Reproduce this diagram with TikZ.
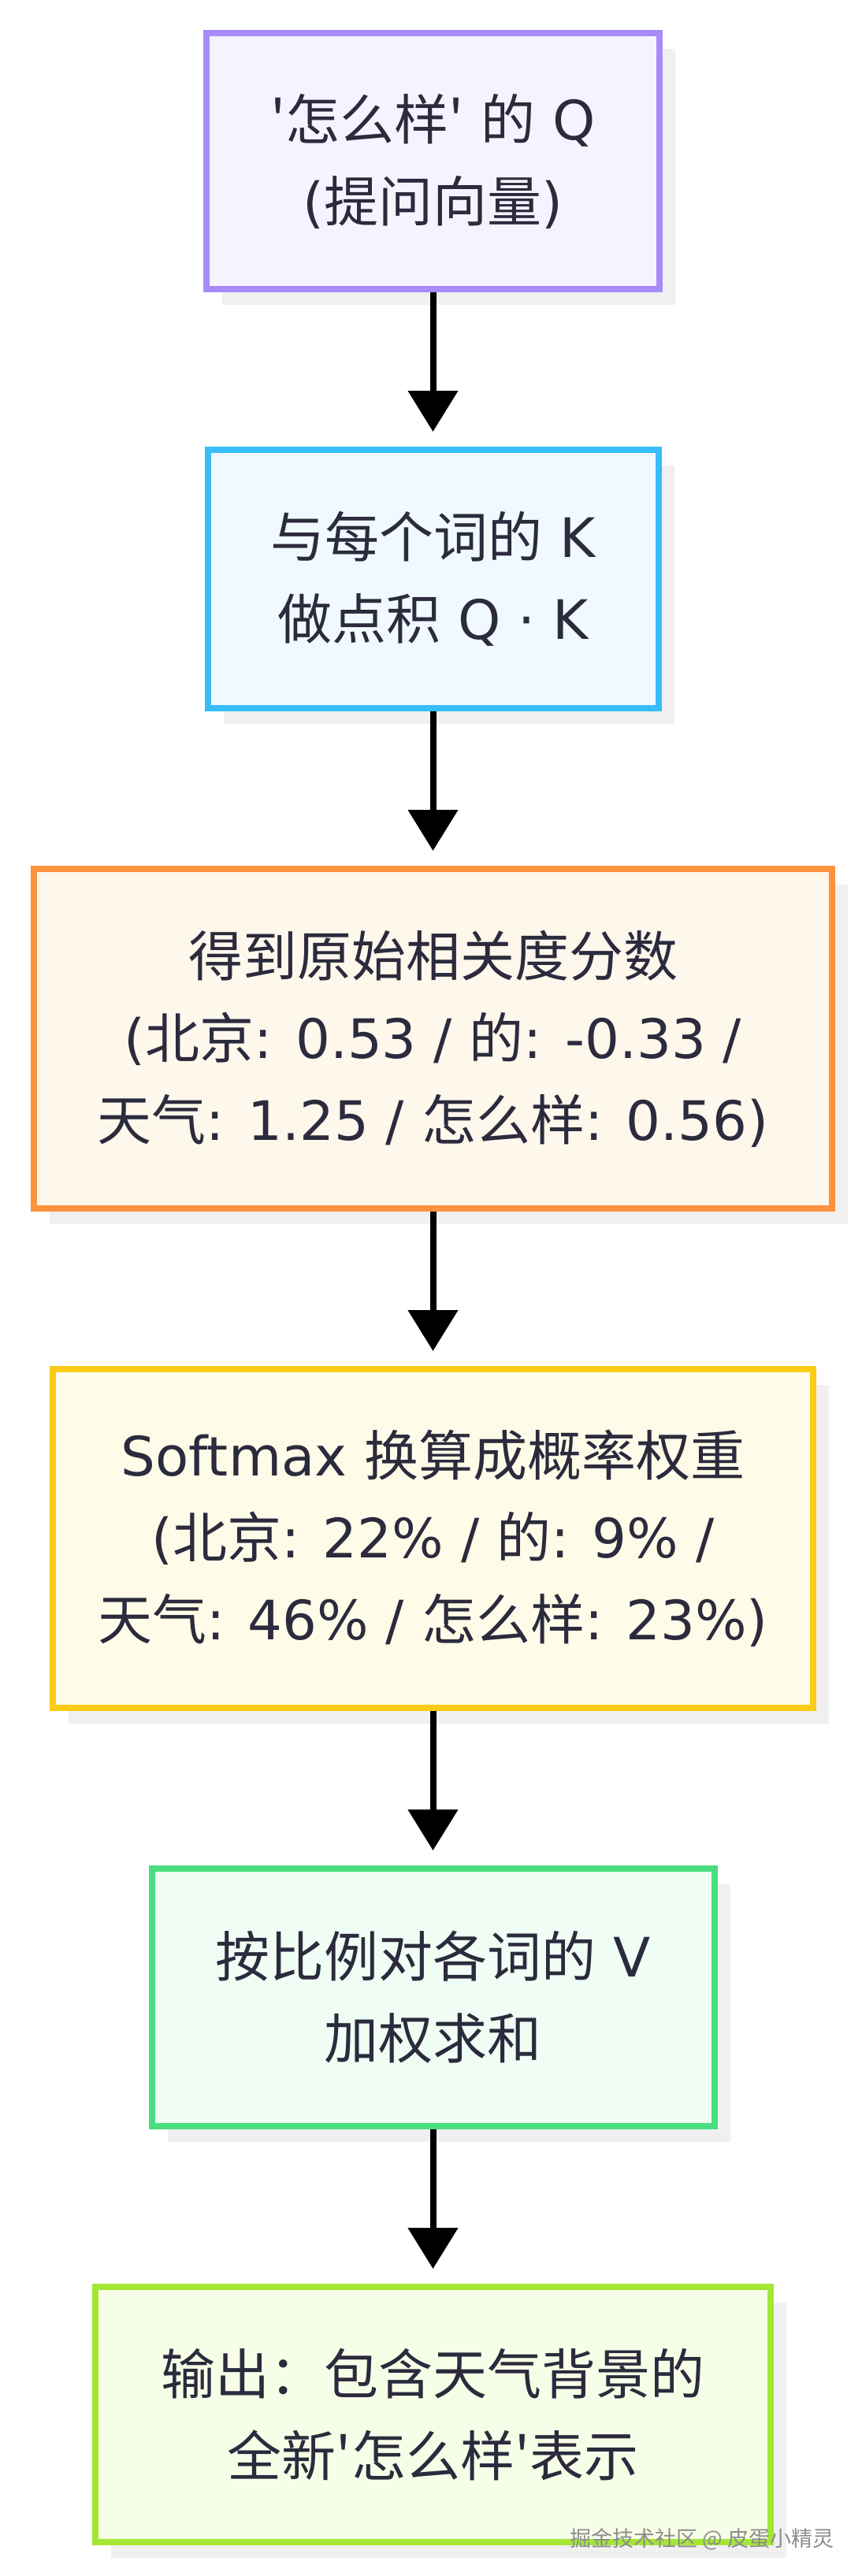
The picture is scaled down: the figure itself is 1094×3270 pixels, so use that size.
\documentclass[tikz,border=0pt]{standalone}
\usepackage{fontspec}
\usetikzlibrary{positioning,arrows.meta,shadows}
\newfontfamily\enfont{DejaVu Sans}
\newfontfamily\zhfont{Noto Sans CJK SC}
\newcommand\zh[1]{{\zhfont #1}}
\definecolor{ink}{HTML}{2B2B3D}
\definecolor{qline}{HTML}{A78BFA}
\definecolor{qfill}{HTML}{F5F3FF}
\definecolor{kline}{HTML}{38BDF8}
\definecolor{kfill}{HTML}{F0F9FF}
\definecolor{sline}{HTML}{FB923C}
\definecolor{sfill}{HTML}{FDF7EC}
\definecolor{wline}{HTML}{FACC15}
\definecolor{wfill}{HTML}{FEFCE8}
\definecolor{vline}{HTML}{4ADE80}
\definecolor{vfill}{HTML}{F0FDF4}
\definecolor{oline}{HTML}{A3E635}
\definecolor{ofill}{HTML}{F7FEE7}

\begin{document}
\begin{tikzpicture}[x=1pt,y=1pt,node distance=196pt]
        \tikzstyle{every node}=[text=ink, font=\enfont\fontsize{69}{104}\selectfont]
        \tikzstyle{stepbox}=[rectangle, line width=8pt, align=center, drop shadow={shadow xshift=20pt, shadow yshift=-20pt, fill=black!6, opacity=1}]
        \tikzstyle{flow}=[line width=8pt, -{Triangle[width=62pt,length=52pt]}, shorten >=19pt]
        \useasboundingbox (0,0) rectangle (1094,-3270);
        \node[stepbox, draw=qline, fill=qfill, minimum width=575pt, minimum height=325pt] (query) at (549.5,-204.5) {\zh{'怎么样'} \zh{的} Q\\(\zh{提问向量})};
        \node[stepbox, draw=kline, fill=kfill, minimum width=572pt, minimum height=328pt, below=of query] (dotprod) {\zh{与每个词的} K\\\zh{做点积} Q · K};
        \node[stepbox, draw=sline, fill=sfill, minimum width=1013pt, minimum height=431pt, below=of dotprod] (scores) {\zh{得到原始相关度分数}\\(\zh{北京}: 0.53 / \zh{的}: -0.33 /\\\zh{天气}: 1.25 / \zh{怎么样}: 0.56)};
        \node[stepbox, draw=wline, fill=wfill, minimum width=965pt, minimum height=430pt, below=of scores] (softmax) {Softmax \zh{换算成概率权重}\\(\zh{北京}: 22\% / \zh{的}: 9\% /\\\zh{天气}: 46\% / \zh{怎么样}: 23\%)};
        \node[stepbox, draw=vline, fill=vfill, minimum width=714pt, minimum height=327pt, below=of softmax] (weighted) {\zh{按比例对各词的} V\\\zh{加权求和}};
        \node[stepbox, draw=oline, fill=ofill, minimum width=857pt, minimum height=324pt, below=of weighted] (output) {\zh{输出：包含天气背景的}\\\zh{全新'怎么样'表示}};
        \node[font=\zhfont\fontsize{27}{30}\selectfont, text=black!45, anchor=east] (mark) at (1062,-3223) {掘金技术社区 @ 皮蛋小精灵};
        \draw[flow] (query) -- (dotprod);
        \draw[flow] (dotprod) -- (scores);
        \draw[flow] (scores) -- (softmax);
        \draw[flow] (softmax) -- (weighted);
        \draw[flow] (weighted) -- (output);
    \end{tikzpicture}
\end{document}
